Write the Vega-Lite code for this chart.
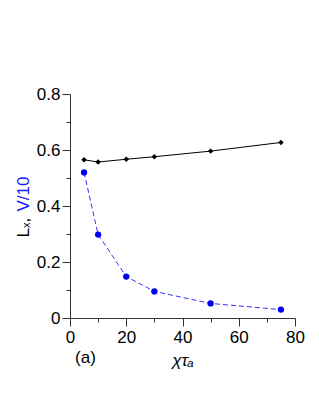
{
  "$schema": "https://vega.github.io/schema/vega-lite/v6.json",
  "width": 225,
  "height": 224,
  "autosize": "none",
  "padding": {"left": 70, "top": 94, "right": 24, "bottom": 94},
  "background": "white",
  "config": {
    "view": {"stroke": null},
    "font": "Liberation Sans",
    "axis": {
      "grid": false,
      "domainColor": "#333",
      "tickColor": "#333",
      "labelColor": "black",
      "labelFontSize": 17,
      "labelFont": "Liberation Sans",
      "titleFont": "Liberation Sans",
      "titleFontSize": 17,
      "titleFontWeight": "normal",
      "titleColor": "black",
      "labelPadding": 2,
      "labelFlush": false,
      "labelOverlap": false
    }
  },
  "datasets": {
    "d": [
      {"t": 5, "Lx": 0.565, "V10": 0.52},
      {"t": 10, "Lx": 0.557, "V10": 0.298},
      {"t": 20, "Lx": 0.567, "V10": 0.148},
      {"t": 30, "Lx": 0.576, "V10": 0.095},
      {"t": 50, "Lx": 0.596, "V10": 0.052},
      {"t": 75, "Lx": 0.627, "V10": 0.03}
    ],
    "lab": [{"t": 5.5, "y": -0.142, "txt": "(a)"}]
  },
  "encoding": {
    "x": {
      "field": "t",
      "type": "quantitative",
      "scale": {"domain": [0, 80], "nice": false},
      "axis": {
        "title": "χτₐ",
        "titleFontStyle": "italic",
        "values": [0, 10, 20, 30, 40, 50, 60, 70, 80],
        "labelExpr": "datum.value % 20 == 0 ? datum.label : ''",
        "tickSize": {"condition": {"test": "datum.value % 20 == 0", "value": 8}, "value": 4},
        "labelPadding": 3,
        "titlePadding": 7
      }
    }
  },
  "layer": [
    {
      "data": {"name": "d"},
      "mark": {"type": "line", "color": "black", "strokeWidth": 1},
      "encoding": {
        "y": {
          "field": "Lx",
          "type": "quantitative",
          "scale": {"domain": [0, 0.8], "nice": false},
          "axis": {
            "orient": "left",
            "title": "Lₓ,",
            "values": [0, 0.1, 0.2, 0.3, 0.4, 0.5, 0.6, 0.7, 0.8],
            "format": "~g",
            "labelExpr": "round(datum.value*10) % 2 == 0 ? datum.label : ''",
            "tickSize": {"condition": {"test": "round(datum.value*10) % 2 == 0", "value": 8}, "value": 4},
            "titleAngle": -90,
            "titleX": -47,
            "titleY": 143,
            "titleAlign": "left",
            "titleBaseline": "middle"
          }
        }
      }
    },
    {
      "data": {"name": "d"},
      "mark": {"type": "point", "shape": "diamond", "filled": true, "color": "black", "size": 30, "opacity": 1},
      "encoding": {
        "y": {"field": "Lx", "type": "quantitative", "scale": {"domain": [0, 0.8], "nice": false}, "axis": null}
      }
    },
    {
      "data": {"name": "d"},
      "mark": {"type": "line", "color": "#3333ff", "strokeWidth": 1, "strokeDash": [5, 3]},
      "encoding": {
        "y": {
          "field": "V10",
          "type": "quantitative",
          "scale": {"domain": [0, 0.8], "nice": false},
          "axis": {
            "orient": "left",
            "title": "V/10",
            "titleColor": "#1a1aff",
            "labels": false,
            "ticks": false,
            "domain": false,
            "titleAngle": -90,
            "titleX": -47,
            "titleY": 117,
            "titleAlign": "left",
            "titleBaseline": "middle"
          }
        }
      }
    },
    {
      "data": {"name": "d"},
      "mark": {"type": "circle", "color": "#0000ee", "size": 40, "opacity": 1},
      "encoding": {
        "y": {"field": "V10", "type": "quantitative", "scale": {"domain": [0, 0.8], "nice": false}, "axis": null}
      }
    },
    {
      "data": {"name": "lab"},
      "mark": {"type": "text", "fontSize": 17, "color": "black", "clip": false},
      "encoding": {
        "y": {"field": "y", "type": "quantitative", "scale": {"domain": [0, 0.8], "nice": false}, "axis": null},
        "text": {"field": "txt"}
      }
    }
  ],
  "resolve": {"axis": {"y": "independent"}}
}
